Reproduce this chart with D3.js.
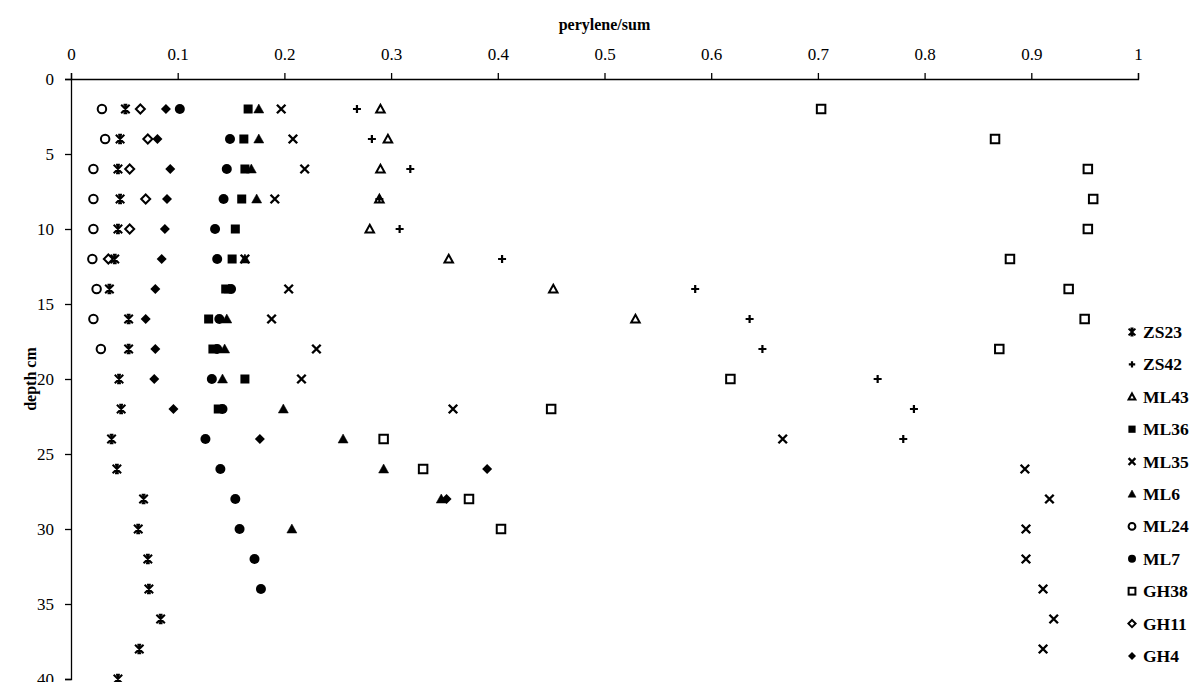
<!DOCTYPE html>
<html>
<head>
<meta charset="utf-8">
<script src="https://cdn.jsdelivr.net/npm/d3@7"></script>
<style>
  html, body { margin: 0; padding: 0; background: #fff; overflow: hidden; }
  svg { display: block; font-family: "Liberation Serif", "Times New Roman", serif; }
</style>
</head>
<body>
<svg id="chart" width="1189" height="682"></svg>
<script>
// depth (cm) of every sample row
const depth = [2, 4, 6, 8, 10, 12, 14, 16, 18, 20, 22, 24, 26, 28, 30, 32, 34, 36, 38, 40];

// perylene/sum per core, one value per depth (null = no sample)
const zs23 = [0.051, 0.046, 0.044, 0.046, 0.044, 0.041, 0.036, 0.054, 0.054, 0.045, 0.047, 0.038, 0.043, 0.068, 0.063, 0.072, 0.073, 0.084, 0.064, 0.044];
const zs42 = [0.268, 0.282, 0.318, 0.289, 0.308, 0.404, 0.585, 0.636, 0.648, 0.756, 0.790, 0.780];
const ml43 = [0.290, 0.297, 0.290, 0.289, 0.280, 0.354, 0.452, 0.529];
const ml36 = [0.166, 0.162, 0.163, 0.160, 0.154, 0.151, 0.145, 0.129, 0.133, 0.163, 0.138];
const ml35 = [0.197, 0.208, 0.219, 0.191, null, 0.163, 0.204, 0.188, 0.230, 0.216, 0.358, 0.667, 0.894, 0.917, 0.895, 0.895, 0.911, 0.921, 0.911];
const ml6  = [0.176, 0.176, 0.169, 0.174, null, 0.163, 0.148, 0.146, 0.144, 0.142, 0.199, 0.255, 0.293, 0.347, 0.207];
const ml24 = [0.029, 0.032, 0.021, 0.021, 0.021, 0.020, 0.024, 0.021, 0.028];
const ml7  = [0.102, 0.149, 0.146, 0.143, 0.135, 0.137, 0.150, 0.139, 0.137, 0.132, 0.142, 0.126, 0.140, 0.154, 0.158, 0.172, 0.178];
const gh38 = [0.703, 0.866, 0.953, 0.958, 0.953, 0.880, 0.935, 0.950, 0.870, 0.618, 0.450, 0.293, 0.330, 0.373, 0.403];
const gh11 = [0.065, 0.072, 0.055, 0.070, 0.055, 0.035];
const gh4  = [0.089, 0.081, 0.093, 0.090, 0.088, 0.085, 0.079, 0.070, 0.079, 0.078, 0.096, 0.177, 0.390, 0.352];

const xTicks = [0, 0.1, 0.2, 0.3, 0.4, 0.5, 0.6, 0.7, 0.8, 0.9, 1];
const yTicks = [0, 5, 10, 15, 20, 25, 30, 35, 40];

const series = [
    { name: 'ZS23', values: zs23, marker: 'star' },
    { name: 'ZS42', values: zs42, marker: 'plus' },
    { name: 'ML43', values: ml43, marker: 'triangleOpen' },
    { name: 'ML36', values: ml36, marker: 'square' },
    { name: 'ML35', values: ml35, marker: 'cross' },
    { name: 'ML6',  values: ml6,  marker: 'triangle' },
    { name: 'ML24', values: ml24, marker: 'circleOpen' },
    { name: 'ML7',  values: ml7,  marker: 'circle' },
    { name: 'GH38', values: gh38, marker: 'squareOpen' },
    { name: 'GH11', values: gh11, marker: 'diamondOpen' },
    { name: 'GH4',  values: gh4,  marker: 'diamond' }
];

const svg = d3.select('#chart');
const x = d3.scaleLinear().domain([0, 1]).range([71, 1138]);
const y = d3.scaleLinear().domain([0, 40]).range([79, 679]);

/**
 * drawMarker() - appends one marker shape centred on (cx, cy)
 */
function drawMarker (g, type, cx, cy, s) {
    let node = g.append('g').attr('transform', `translate(${cx},${cy})`);
    let h = s / 2;
    switch (type) {
        case 'star': {
            let d = h * 0.85;
            node.append('path')
                .attr('d', `M${-d},${-d}L${d},${d}M${-d},${d}L${d},${-d}M0,${-d}V${d}M${-d * 0.45},${-d}H${d * 0.45}M${-d * 0.45},${d}H${d * 0.45}`)
                .attr('stroke', '#000').attr('stroke-width', 2).attr('fill', 'none');
            break;
        }
        case 'plus':
            node.append('path')
                .attr('d', `M${-h * 0.8},0H${h * 0.8}M0,${-h * 0.8}V${h * 0.8}`)
                .attr('stroke', '#000').attr('stroke-width', 2.2);
            break;
        case 'cross':
            node.append('path')
                .attr('d', `M${-h * 0.85},${-h * 0.85}L${h * 0.85},${h * 0.85}M${-h * 0.85},${h * 0.85}L${h * 0.85},${-h * 0.85}`)
                .attr('stroke', '#000').attr('stroke-width', 2.4);
            break;
        case 'triangle':
        case 'triangleOpen': {
            let open = type === 'triangleOpen';
            let r = open ? h * 0.85 : h;
            node.append('path')
                .attr('d', `M0,${-r}L${r},${r * 0.8}L${-r},${r * 0.8}Z`)
                .attr('fill', open ? 'none' : '#000')
                .attr('stroke', '#000').attr('stroke-width', open ? 2 : 0.5);
            break;
        }
        case 'square':
        case 'squareOpen': {
            let open = type === 'squareOpen';
            let r = open ? h * 0.85 : h * 0.9;
            node.append('rect')
                .attr('x', -r).attr('y', -r).attr('width', 2 * r).attr('height', 2 * r)
                .attr('fill', open ? 'none' : '#000')
                .attr('stroke', '#000').attr('stroke-width', open ? 2 : 0);
            break;
        }
        case 'circle':
        case 'circleOpen': {
            let open = type === 'circleOpen';
            node.append('circle')
                .attr('r', open ? h * 0.85 : h)
                .attr('fill', open ? 'none' : '#000')
                .attr('stroke', '#000').attr('stroke-width', open ? 2 : 0);
            break;
        }
        case 'diamond':
        case 'diamondOpen': {
            let open = type === 'diamondOpen';
            let r = open ? h * 0.9 : h;
            node.append('path')
                .attr('d', `M0,${-r}L${r},0L0,${r}L${-r},0Z`)
                .attr('fill', open ? 'none' : '#000')
                .attr('stroke', '#000').attr('stroke-width', open ? 2 : 0);
            break;
        }
    }
}

// axes
let xAxis = svg.append('g')
    .attr('transform', `translate(0,${y(0)})`)
    .call(d3.axisTop(x).tickValues(xTicks).tickFormat(d => String(+d.toFixed(1))).tickSize(6).tickPadding(13));
let yAxis = svg.append('g')
    .attr('transform', `translate(${x(0)},0)`)
    .call(d3.axisLeft(y).tickValues(yTicks).tickSize(6).tickPadding(11));

[xAxis, yAxis].forEach(a => {
    a.select('.domain').attr('stroke', '#000').attr('stroke-width', 1.3);
    a.selectAll('.tick line').attr('stroke', '#000').attr('stroke-width', 1.3);
    a.selectAll('.tick text')
        .attr('fill', '#000')
        .style('font-family', '"Liberation Serif", serif')
        .style('font-size', '17px');
});

// axis titles
svg.append('text')
    .attr('x', (x(0) + x(1)) / 2)
    .attr('y', 30)
    .attr('text-anchor', 'middle')
    .style('font-size', '16px')
    .style('font-weight', 'bold')
    .text('perylene/sum');

svg.append('text')
    .attr('transform', `translate(36,${(y(0) + y(40)) / 2}) rotate(-90)`)
    .attr('text-anchor', 'middle')
    .style('font-size', '16px')
    .style('font-weight', 'bold')
    .text('depth cm');

// points
let plot = svg.append('g');
series.forEach(s => {
    s.values.forEach((v, i) => {
        if (v === null || v === undefined) return;
        drawMarker(plot, s.marker, x(v), y(depth[i]), 10);
    });
});

// legend
let legend = svg.append('g');
series.forEach((s, i) => {
    let ly = 332 + i * 32.4;
    drawMarker(legend, s.marker, 1132, ly, 8);
    legend.append('text')
        .attr('x', 1143)
        .attr('y', ly + 6)
        .style('font-size', '17.5px')
        .style('font-weight', 'bold')
        .text(s.name);
});
</script>
</body>
</html>
